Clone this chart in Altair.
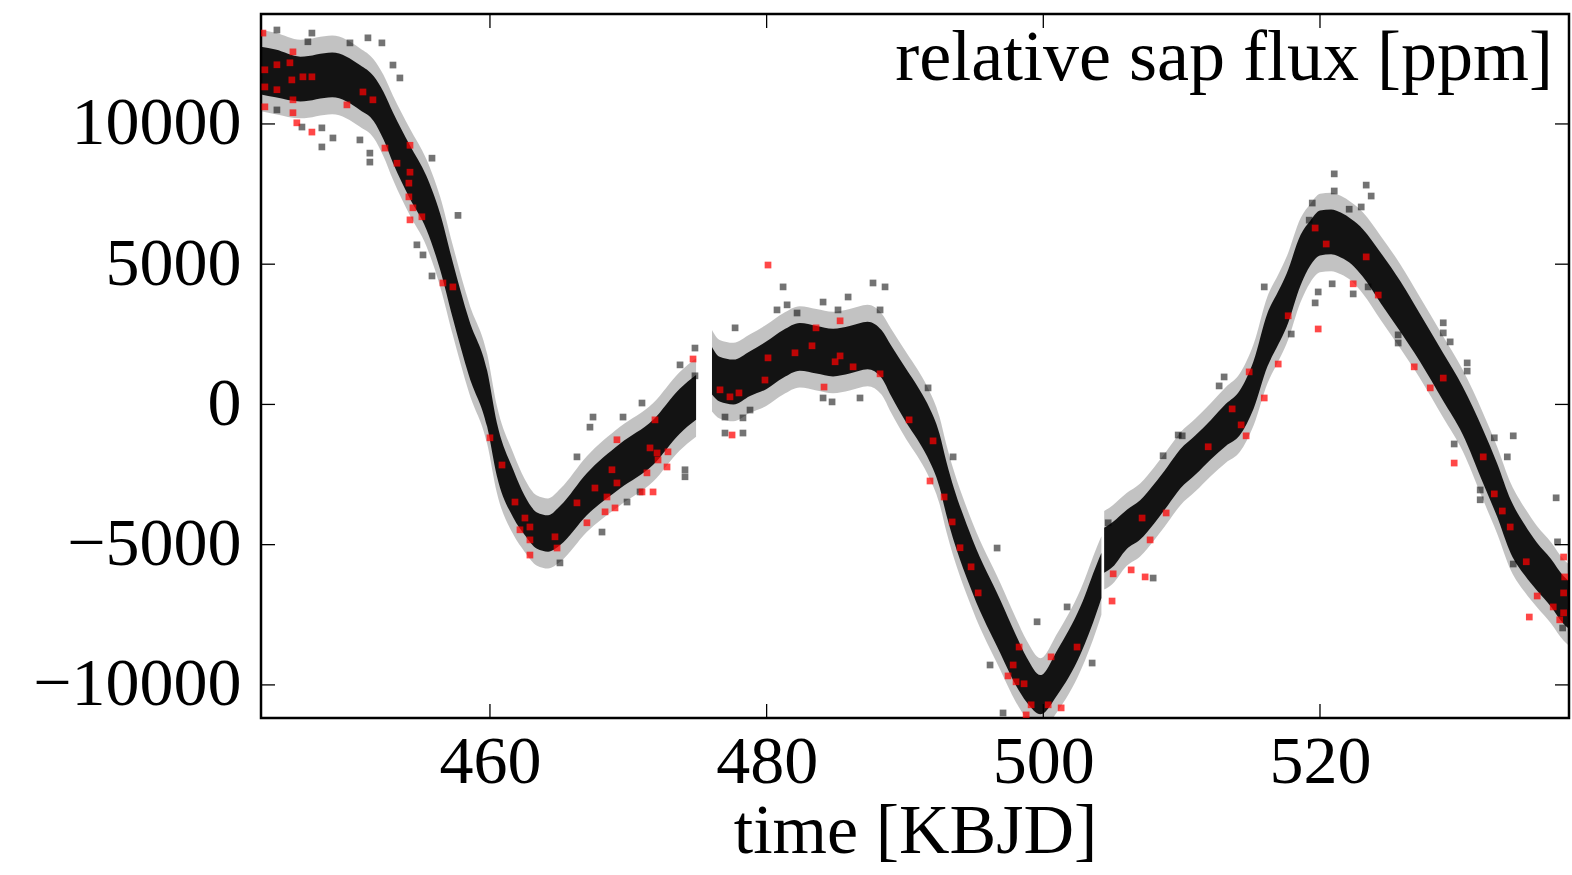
import altair as alt
import pandas as pd

# ---------------- data ----------------
# band (dense core of the light curve): time, centre flux, core half-width, fringe half-width, segment
band_t = [443.45, 444.5, 446.3, 448.6, 450.6, 451.6, 452.3, 453.0, 454.2, 455.4, 456.4, 457.3, 458.5, 459.8,
          460.5, 461.7, 462.5, 463.4, 464.2, 465.1, 467.0, 469.4, 471.8, 473.7, 474.9,
          476.05, 476.6, 477.6, 478.8, 480.0, 481.2, 482.4, 483.6, 484.8, 486.0, 487.3, 488.3, 489.0, 490.1,
          490.9, 491.6, 492.5, 493.0, 494.9, 496.9, 498.0, 498.8, 499.8, 501.0, 502.7, 503.9, 504.2,
          504.4, 505.0, 506.0, 507.0, 508.0, 509.0, 509.9, 511.0, 512.1, 513.2, 514.2, 515.2, 516.2, 517.0,
          517.6, 518.6, 519.3, 520.0, 520.8, 521.5, 522.3, 523.1, 524.4, 525.8, 527.2, 528.9, 530.3, 531.8,
          532.8, 533.8, 534.8, 535.7, 536.7, 537.6, 538.0]
band_mid = [11900, 11800, 11600, 11750, 11300, 10900, 10300, 9500, 8300, 7200, 5800, 4100, 2000, 200,
            -1600, -3200, -3950, -4500, -4600, -4300, -3200, -2200, -1350, -250, 250,
            1200, 900, 800, 1100, 1400, 1800, 2050, 1950, 1850, 1950, 2100, 1800, 1200, 300,
            -300, -900, -2000, -3000, -5790, -7930, -9100, -9820, -10350, -9570, -8040, -6500, -6100,
            -5200, -5000, -4470, -4120, -3550, -2900, -2300, -1800, -1260, -730, -300, 700, 2300, 3100,
            3730, 5150, 5750, 6110, 6150, 6040, 5790, 5400, 4500, 3500, 2400, 980, -200, -1870,
            -3050, -4370, -5190, -5790, -6360, -6970, -7150]
band_core = [850, 850, 800, 800, 800, 800, 850, 900, 950, 950, 1000, 1000, 1000, 1000,
             950, 850, 700, 650, 650, 700, 750, 800, 800, 800, 800,
             850, 800, 800, 800, 850, 850, 850, 850, 850, 850, 850, 850, 900, 950,
             950, 950, 950, 950, 950, 950, 900, 800, 700, 800, 850, 850, 800,
             800, 800, 700, 700, 700, 700, 700, 700, 700, 750, 800, 850, 950, 950,
             950, 900, 800, 800, 800, 800, 800, 850, 900, 900, 850, 850, 850, 950,
             950, 950, 900, 850, 850, 850, 850]
band_fringe = [1450, 1450, 1400, 1400, 1400, 1400, 1450, 1500, 1550, 1550, 1600, 1600, 1600, 1600,
               1550, 1450, 1300, 1250, 1250, 1300, 1350, 1400, 1400, 1400, 1400,
               1450, 1400, 1400, 1400, 1450, 1450, 1450, 1450, 1450, 1450, 1450, 1450, 1500, 1550,
               1550, 1550, 1550, 1550, 1550, 1550, 1500, 1400, 1300, 1400, 1450, 1450, 1400,
               1400, 1400, 1300, 1300, 1300, 1300, 1300, 1300, 1300, 1350, 1400, 1450, 1550, 1550,
               1550, 1500, 1400, 1400, 1400, 1400, 1400, 1450, 1500, 1500, 1450, 1450, 1450, 1550,
               1550, 1550, 1500, 1450, 1450, 1450, 1450]
band_seg = [1] * 25 + [2] * 27 + [3] * 35

# scattered (outlying) cadences, drawn grey
grey_t = [444.60, 447.13, 451.18, 452.19, 452.99, 453.49, 447.85, 448.65, 450.60, 451.32, 451.32, 455.81,
          457.69, 455.81, 454.72, 455.16, 446.41, 444.60, 447.85, 449.88, 446.84, 474.82, 474.82, 473.74,
          468.10, 469.91, 465.06, 467.23, 467.45, 474.10, 474.10, 466.29, 470.85, 469.62, 470.99, 476.99,
          476.99, 477.72, 481.19, 481.48, 484.08, 485.89, 487.69, 488.56, 488.20, 480.75, 482.20, 478.29,
          478.29, 478.80, 486.75, 484.08, 484.73, 491.67, 493.48, 485.16, 496.66, 499.55, 496.15, 501.72,
          503.53, 504.69, 507.94, 509.75, 497.09, 521.03, 521.03, 523.34, 523.70, 522.98, 519.44, 519.22,
          522.11, 515.97, 519.87, 519.65, 517.92, 520.88, 522.40, 523.48, 513.07, 512.71, 510.04, 508.66,
          528.91, 528.91, 529.41, 525.65, 525.65, 530.64, 530.64, 532.60, 533.97, 533.54, 529.70, 531.58,
          531.58, 537.07, 533.97, 537.17, 537.54]
grey_f = [13350, 13240, 13070, 12890, 12100, 11640, 9180, 9500, 9430, 8960, 8640, 8780,
          6740, 4580, 5690, 5330, 9890, 10500, 9860, 12890, 12930, 2010, 1020, 1410,
          -4550, -3480, -5650, -810, -450, -2330, -2580, -1870, -3120, -450, 50, -450,
          -1020, 2730, 4190, 3550, 3650, 3830, 4330, 4190, 3370, 3370, 3260, -480,
          -1020, -200, 230, 230, 90, 590, -1870, 3370, -5120, -7750, -9290, -7220,
          -9220, -4220, -6190, -1090, -11000, 8220, 7610, 7820, 7430, 7040, 7180, 6570,
          6960, 4190, 4010, 3620, 2510, 4300, 3940, 4190, 980, 660, -1120, -1830,
          2910, 2550, 2230, 2480, 2190, 1480, 1190, -1190, -1120, -1870, -1410, -3050,
          -3400, -3330, -5690, -4900, -7970]

# flagged cadences, drawn red
red_t = [443.59, 443.73, 443.73, 443.73, 444.60, 444.60, 445.54, 445.68, 445.76, 445.76, 446.04, 445.76,
         446.48, 447.13, 447.13, 450.82, 451.54, 449.66, 452.41, 453.28, 454.22, 454.22, 454.14, 454.14,
         454.43, 455.08, 454.22, 456.60, 457.32, 460.00, 460.87, 461.81, 462.53, 462.17, 462.89, 462.89,
         462.89, 464.70, 464.85, 466.29, 467.01, 467.59, 468.46, 468.82, 469.18, 469.18, 468.32, 469.04,
         471.35, 471.57, 472.08, 472.15, 472.80, 472.87, 471.79, 470.99, 471.93, 474.68, 476.63, 477.35,
         477.50, 480.10, 478.00, 479.88, 480.10, 482.05, 483.28, 483.57, 485.31, 484.95, 485.31, 486.25,
         484.15, 488.20, 490.30, 492.03, 491.81, 492.83, 493.41, 493.98, 494.78, 495.29, 498.25, 497.82,
         497.45, 498.03, 498.61, 499.12, 498.76, 500.35, 501.29, 500.56, 502.44, 505.05, 506.35, 507.36,
         504.97, 507.14, 508.88, 507.72, 519.65, 520.45, 523.34, 522.40, 524.21, 519.87, 517.70, 516.98,
         514.88, 515.97, 513.65, 514.30, 514.66, 511.92, 526.81, 528.91, 527.97, 529.70, 531.80, 532.60,
         533.18, 533.75, 534.91, 535.70, 536.86, 535.13, 537.61, 537.69, 537.61, 537.61, 537.33]
red_f = [13240, 11930, 11320, 10610, 12110, 11220, 12180, 11570, 10860, 10400, 10040, 12570,
         11680, 11680, 9710, 11140, 10860, 10680, 9140, 8600, 9240, 8280, 7890, 7400,
         7010, 6690, 6580, 4330, 4190, -1190, -2160, -3480, -4050, -4470, -4370, -4830,
         -5370, -4720, -5120, -3510, -4220, -2980, -3300, -2330, -2800, -1260, -3830, -3690,
         -2440, -1550, -1730, -1980, -2230, -1690, -3120, -3120, -550, 1620, 520, 270,
         -1090, 4970, 410, 870, 1660, 1840, 2090, 2730, 2980, 1520, 1730, 1340,
         620, 1090, -550, -1300, -2730, -3300, -4190, -5110, -5790, -6720, -8650, -9290,
         -9680, -9890, -9960, -10710, -11070, -10710, -10820, -9000, -8650, -6040, -5900, -6150,
         -7010, -4050, -3870, -4830, 6290, 5720, 5260, 4300, 3900, 2690, 3160, 1440,
         1160, 230, -160, -730, -1120, -1510, 1340, 940, 590, -2090, -1870, -3190,
         -3800, -4370, -5610, -6830, -7220, -7580, -5440, -6150, -6720, -7430, -7680]

x_ticks = [460, 480, 500, 520]
y_ticks = [-10000, -5000, 0, 5000, 10000]
x_domain = [443.45, 538.0]
y_domain = [-11180, 13920]
x_title = "time [KBJD]"
y_title = "relative sap flux [ppm]"

# ---------------- tables ----------------
band = pd.DataFrame({"t": band_t, "mid": band_mid, "core": band_core,
                     "fringe": band_fringe, "seg": band_seg})
band["lo"] = band["mid"] - band["core"]
band["hi"] = band["mid"] + band["core"]
band["flo"] = band["mid"] - band["fringe"]
band["fhi"] = band["mid"] + band["fringe"]
grey = pd.DataFrame({"t": grey_t, "f": grey_f})
red = pd.DataFrame({"t": red_t, "f": red_f})
xt = pd.DataFrame({"t": x_ticks})
yt = pd.DataFrame({"f": y_ticks})
lab = pd.DataFrame({"label": [y_title]})

W, H = 1308, 704
FONT = "Liberation Serif"
FS = 68
TL = 14

xs = alt.Scale(domain=x_domain, nice=False, zero=False)
ys = alt.Scale(domain=y_domain, nice=False, zero=False)

x_axis = alt.Axis(values=x_ticks, format="d", ticks=False, tickSize=0, domain=False, grid=False,
                  labelFont=FONT, labelFontSize=FS, labelColor="black", labelPadding=10,
                  labelLimit=400,
                  title=x_title, titleFont=FONT, titleFontSize=70, titleFontWeight="normal",
                  titleColor="black", titleBaseline="alphabetic", titleY=134)
y_axis = alt.Axis(values=y_ticks, format="d", ticks=False, tickSize=0, domain=False, grid=False,
                  labelFont=FONT, labelFontSize=FS, labelColor="black", labelPadding=20,
                  labelLimit=400, title=None)

X = alt.X("t:Q", scale=xs, axis=x_axis)

fringe = alt.Chart(band).mark_area(color="black", opacity=0.24, clip=True,
                                   interpolate="monotone").encode(
    x=X, y=alt.Y("flo:Q", scale=ys, axis=y_axis), y2="fhi:Q", detail="seg:N")
core = alt.Chart(band).mark_area(color="black", opacity=0.9, clip=True,
                                 interpolate="monotone").encode(
    x=X, y=alt.Y("lo:Q", scale=ys, axis=y_axis), y2="hi:Q", detail="seg:N")
gpts = alt.Chart(grey).mark_square(color="black", opacity=0.55, size=45, clip=True).encode(
    x=X, y=alt.Y("f:Q", scale=ys, axis=y_axis))
rpts = alt.Chart(red).mark_square(color="#ff0000", opacity=0.72, size=45, clip=True).encode(
    x=X, y=alt.Y("f:Q", scale=ys, axis=y_axis))

tick_style = dict(color="black", strokeWidth=1.3)
xb = alt.Chart(xt).mark_rule(**tick_style).encode(x=X, y=alt.value(H), y2=alt.value(H - TL))
xtop = alt.Chart(xt).mark_rule(**tick_style).encode(x=X, y=alt.value(0), y2=alt.value(TL))
yl = alt.Chart(yt).mark_rule(**tick_style).encode(
    y=alt.Y("f:Q", scale=ys, axis=y_axis), x=alt.value(0), x2=alt.value(TL))
yr = alt.Chart(yt).mark_rule(**tick_style).encode(
    y=alt.Y("f:Q", scale=ys, axis=y_axis), x=alt.value(W), x2=alt.value(W - TL))

label = alt.Chart(lab).mark_text(font=FONT, fontSize=72, align="right", baseline="alphabetic",
                                 color="black").encode(
    text="label:N", x=alt.value(W - 16), y=alt.value(66))

chart = alt.layer(fringe, core, gpts, rpts, xb, xtop, yl, yr, label).properties(
    width=W, height=H,
    autosize=alt.AutoSizeParams(type="none"),
    padding={"left": 261, "top": 14, "right": 3, "bottom": 157},
    background="white",
).configure_view(stroke="black", strokeWidth=2.5)

chart.save("out.html", embed_options={"renderer": "svg", "actions": False})
